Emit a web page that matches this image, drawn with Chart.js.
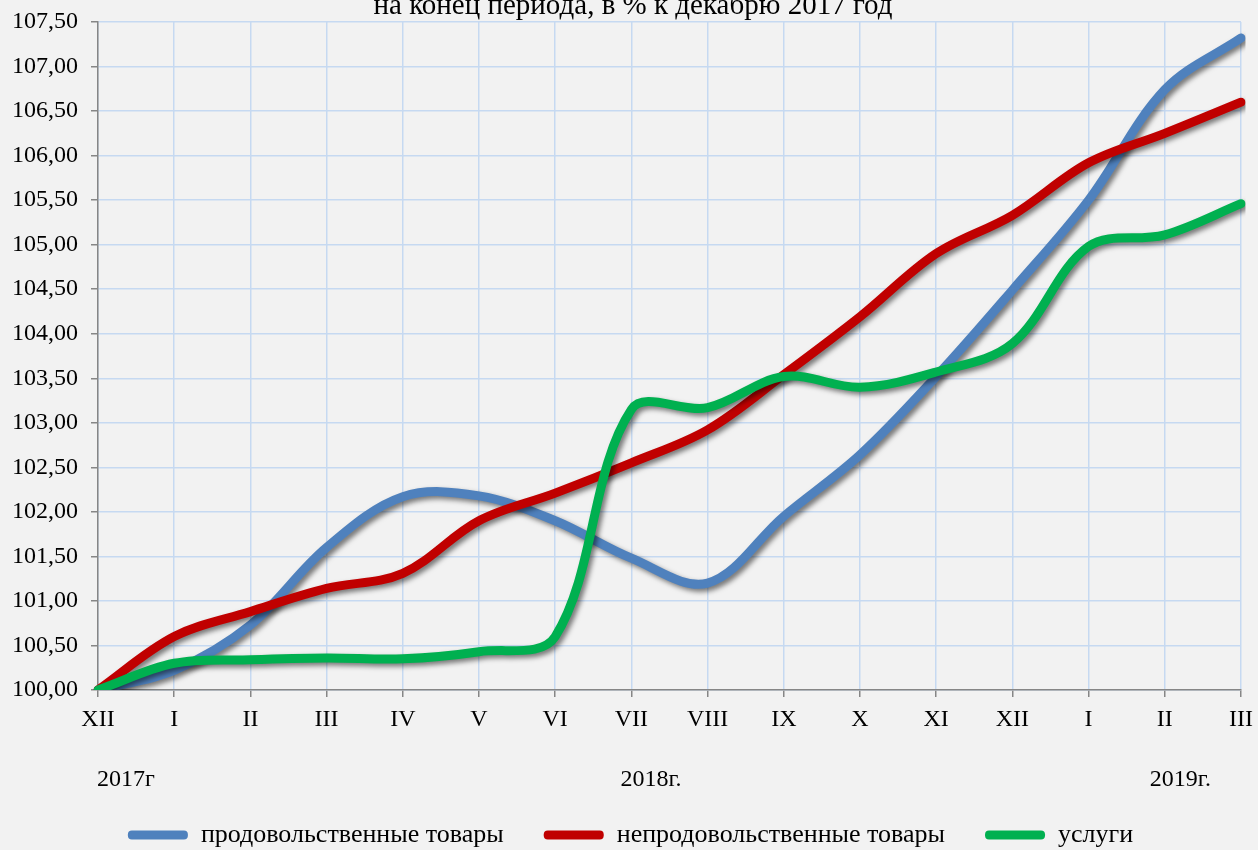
<!DOCTYPE html>
<html>
<head>
<meta charset="utf-8">
<script src="https://cdn.jsdelivr.net/npm/chart.js@4/dist/chart.umd.min.js"></script>
<style>
  html, body { margin: 0; padding: 0; background: #F2F2F2; }
  #wrap { position: relative; width: 1258px; height: 850px; }
  canvas { display: block; }
</style>
</head>
<body>
<div id="wrap"><canvas id="c" width="1258" height="850"></canvas></div>
<script>
const titleText = 'на конец периода, в % к декабрю 2017 год';
const categories = ['XII','I','II','III','IV','V','VI','VII','VIII','IX','X','XI','XII','I','II','III'];
const foodValues = [100, 100.22, 100.73, 101.6, 102.17, 102.18, 101.9, 101.48, 101.2, 101.95, 102.64, 103.52, 104.49, 105.5, 106.74, 107.32];
const nonFoodValues = [100, 100.6, 100.88, 101.14, 101.31, 101.9, 102.21, 102.55, 102.92, 103.54, 104.19, 104.9, 105.33, 105.92, 106.25, 106.6];
const servicesValues = [100, 100.3, 100.34, 100.36, 100.35, 100.43, 100.6, 103.15, 103.17, 103.52, 103.4, 103.57, 103.89, 104.98, 105.11, 105.46];
const seriesNames = ['продовольственные товары', 'непродовольственные товары', 'услуги'];
const yearLabels = ['2017г', '2018г.', '2019г.'];
const yearCategoryIndex = [0, 7, 14];

const FONT = "'Liberation Serif', 'Times New Roman', serif";
const FS = 24;
const LEGEND_FS = 26;
const TITLE_FS = 29;
const PAD_BOTTOM = -8;
const LEGEND_SHIFT = 10;
const colors = ['#4F81BD', '#C00000', '#00B050'];

const shadowPlugin = {
  id: 'lineShadow',
  beforeDatasetDraw(chart) {
    const ctx = chart.ctx;
    ctx.save();
    ctx.shadowColor = 'rgba(0,0,0,0.5)';
    ctx.shadowBlur = 5;
    ctx.shadowOffsetX = 3;
    ctx.shadowOffsetY = 3;
  },
  afterDatasetDraw(chart) {
    chart.ctx.restore();
  }
};

const legendShift = {
  id: 'legendShift',
  afterLayout(chart) {
    if (chart.legend) {
      chart.legend.left += LEGEND_SHIFT;
      chart.legend.right += LEGEND_SHIFT;
    }
  }
};

const extraText = {
  id: 'extraText',
  afterDraw(chart) {
    const ctx = chart.ctx;
    const xs = chart.scales.x;
    ctx.save();
    ctx.fillStyle = '#000';
    ctx.font = TITLE_FS + 'px ' + FONT;
    ctx.textBaseline = 'alphabetic';
    ctx.textAlign = 'center';
    ctx.fillText(titleText, 633, 14);
    ctx.font = FS + 'px ' + FONT;
    ctx.textAlign = 'left';
    ctx.textBaseline = 'middle';
    const offs = [-1, -11, -15];
    yearLabels.forEach((t, i) => {
      ctx.fillText(t, xs.getPixelForValue(yearCategoryIndex[i]) + offs[i], 780);
    });
    ctx.restore();
  }
};

const mk = (i, data, order) => ({
  label: seriesNames[i],
  data: data,
  borderColor: colors[i],
  backgroundColor: colors[i],
  borderWidth: 9,
  borderCapStyle: 'round',
  borderJoinStyle: 'round',
  pointRadius: 0,
  pointHoverRadius: 0,
  tension: 0.35,
  fill: false,
  order: order
});

new Chart(document.getElementById('c'), {
  type: 'line',
  data: {
    labels: categories,
    datasets: [mk(0, foodValues, 3), mk(1, nonFoodValues, 2), mk(2, servicesValues, 1)]
  },
  options: {
    responsive: false,
    animation: false,
    devicePixelRatio: 1,
    layout: { padding: { left: 0, right: 17, top: 22, bottom: PAD_BOTTOM } },
    plugins: {
      title: { display: false },
      tooltip: { enabled: false },
      legend: {
        position: 'bottom',
        labels: {
          font: { family: FONT, size: LEGEND_FS },
          color: '#000',
          boxWidth: 60,
          boxHeight: 9,
          useBorderRadius: true,
          borderRadius: 4,
          padding: 40,
          sort: (a, b) => a.datasetIndex - b.datasetIndex,
          generateLabels: (chart) => {
            const items = Chart.defaults.plugins.legend.labels.generateLabels(chart);
            items.forEach(it => { it.lineWidth = 0; it.strokeStyle = 'rgba(0,0,0,0)'; });
            return items;
          }
        }
      }
    },
    scales: {
      x: {
        offset: false,
        grid: { color: '#C6D9F1', lineWidth: 1.5, tickColor: '#868686', tickLength: 7, drawTicks: true },
        border: { color: '#868686', width: 1.5 },
        ticks: { font: { family: FONT, size: FS }, color: '#000', autoSkip: false, maxRotation: 0, padding: 8 },
        afterFit: (s) => {
          s.height = 850 - 690 - (s.chart.legend ? s.chart.legend.height : 0) - PAD_BOTTOM;
          s.paddingRight = 0;
        }
      },
      y: {
        min: 100,
        max: 107.5,
        grid: { color: '#C6D9F1', lineWidth: 1.5, tickColor: '#868686', tickLength: 7 },
        border: { color: '#868686', width: 1.5 },
        ticks: {
          stepSize: 0.5,
          font: { family: FONT, size: FS },
          color: '#000',
          padding: 13,
          callback: (v) => Number(v).toFixed(2).replace('.', ',')
        },
        afterFit: (s) => { s.width = 98; s.paddingTop = 0; s.paddingBottom = 0; }
      }
    }
  },
  plugins: [shadowPlugin, legendShift, extraText]
});
</script>
</body>
</html>
